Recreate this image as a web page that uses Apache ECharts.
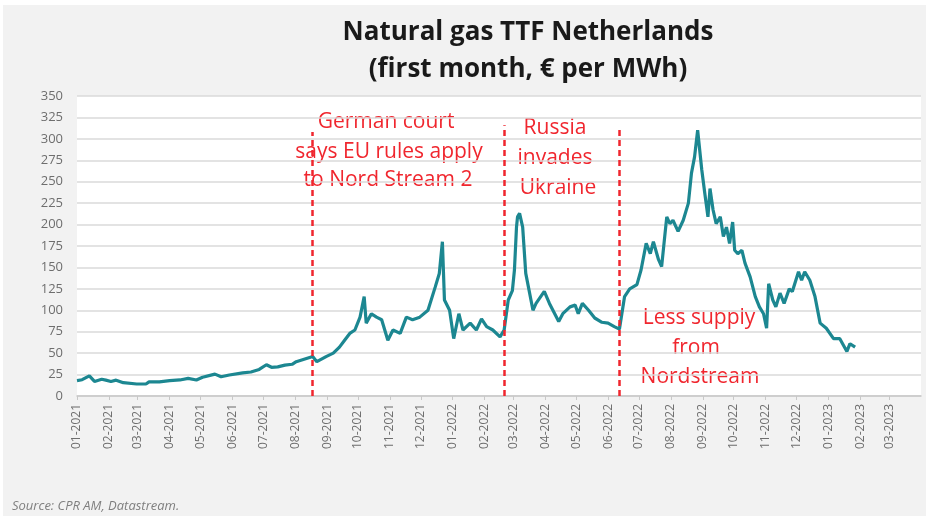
<!DOCTYPE html>
<html>
<head>
<meta charset="utf-8">
<script src="https://cdn.jsdelivr.net/npm/echarts@6/dist/echarts.min.js"></script>
<style>
  html, body { margin: 0; padding: 0; background: #fff; }
  #chart { width: 926px; height: 516px; }
</style>
</head>
<body>
<div id="chart"></div>
<script>
// TTF front-month price, € per MWh
const priceDates = [
  '2021-01-01', '2021-01-06', '2021-01-13', '2021-01-18', '2021-01-25', '2021-01-29',
  '2021-02-03', '2021-02-08', '2021-02-15', '2021-02-28', '2021-03-09', '2021-03-12',
  '2021-03-22', '2021-04-01', '2021-04-11', '2021-04-19', '2021-04-27', '2021-05-03',
  '2021-05-15', '2021-05-21', '2021-05-29', '2021-06-11', '2021-06-19', '2021-06-27',
  '2021-07-04', '2021-07-09', '2021-07-15', '2021-07-22', '2021-07-29', '2021-08-02',
  '2021-08-15', '2021-08-18', '2021-08-22', '2021-08-31', '2021-09-07', '2021-09-13',
  '2021-09-18', '2021-09-23', '2021-09-28', '2021-10-03', '2021-10-07', '2021-10-09',
  '2021-10-14', '2021-10-19', '2021-10-24', '2021-10-30', '2021-11-04', '2021-11-11',
  '2021-11-17', '2021-11-23', '2021-11-30', '2021-12-08', '2021-12-15', '2021-12-19',
  '2021-12-22', '2021-12-24', '2021-12-29', '2022-01-02', '2022-01-07', '2022-01-11',
  '2022-01-18', '2022-01-24', '2022-01-29', '2022-02-03', '2022-02-09', '2022-02-16',
  '2022-02-20', '2022-02-24', '2022-02-28', '2022-03-02', '2022-03-04', '2022-03-05',
  '2022-03-07', '2022-03-08', '2022-03-10', '2022-03-13', '2022-03-20', '2022-03-23',
  '2022-03-31', '2022-04-05', '2022-04-14', '2022-04-18', '2022-04-25', '2022-04-30',
  '2022-05-03', '2022-05-07', '2022-05-13', '2022-05-19', '2022-05-26', '2022-06-01',
  '2022-06-07', '2022-06-12', '2022-06-17', '2022-06-22', '2022-06-29', '2022-07-03',
  '2022-07-08', '2022-07-12', '2022-07-15', '2022-07-20', '2022-07-23', '2022-07-26',
  '2022-07-28', '2022-07-31', '2022-08-03', '2022-08-08', '2022-08-13', '2022-08-18',
  '2022-08-21', '2022-08-24', '2022-08-27', '2022-08-31', '2022-09-03', '2022-09-06',
  '2022-09-08', '2022-09-11', '2022-09-14', '2022-09-18', '2022-09-21', '2022-09-24',
  '2022-09-27', '2022-09-30', '2022-10-02', '2022-10-05', '2022-10-09', '2022-10-12',
  '2022-10-17', '2022-10-22', '2022-10-26', '2022-10-30', '2022-11-02', '2022-11-04',
  '2022-11-08', '2022-11-11', '2022-11-15', '2022-11-19', '2022-11-24', '2022-11-27',
  '2022-12-03', '2022-12-06', '2022-12-09', '2022-12-14', '2022-12-19', '2022-12-24',
  '2022-12-30', '2023-01-06', '2023-01-12', '2023-01-19', '2023-01-22', '2023-01-27'
];
const priceValues = [
  18, 19, 23.5, 17, 19.5, 18.5,
  17, 18.5, 15.5, 14, 14, 16.5,
  16.5, 18, 18.7, 20.5, 18.7, 21.8,
  25.5, 22.5, 24.5, 27, 28, 31,
  36.5, 33.5, 34, 36, 37, 40,
  45, 46, 40, 46, 50, 57,
  65, 73, 77, 92, 116, 85,
  96, 92, 89, 65, 77, 73,
  92, 89, 92, 100, 127, 143,
  180, 112, 100, 67, 96, 77,
  85, 77, 90, 81, 77, 69,
  77, 112, 123, 147, 197, 209,
  213, 215, 197, 143, 100, 108,
  122, 108, 87, 96, 104, 106,
  96, 108, 100, 91, 86, 85,
  81, 78, 116, 125, 130, 147,
  178, 166, 180, 159, 151, 186,
  209, 201, 205, 192, 205, 225,
  260, 279, 310, 264, 236, 209,
  242, 217, 201, 209, 186, 197,
  178, 203, 170, 166, 170, 155,
  139, 116, 104, 96, 79, 131,
  112, 104, 120, 108, 125, 122,
  145, 135, 145, 135, 116, 85,
  79, 67, 67, 52, 61, 57
];

// event markers: date and top of the dashed line
const eventDates = ['2021-08-18', '2022-02-20', '2022-06-12'];
const eventTops = [308, 316, 311];

// x tick labels, one per month
const monthTicks = [
  '2021-01-01', '2021-02-01', '2021-03-01', '2021-04-01', '2021-05-01', '2021-06-01',
  '2021-07-01', '2021-08-01', '2021-09-01', '2021-10-01', '2021-11-01', '2021-12-01',
  '2022-01-01', '2022-02-01', '2022-03-01', '2022-04-01', '2022-05-01', '2022-06-01',
  '2022-07-01', '2022-08-01', '2022-09-01', '2022-10-01', '2022-11-01', '2022-12-01',
  '2023-01-01', '2023-02-01', '2023-03-01'
];

const chart = echarts.init(document.getElementById('chart'));
const toTime = s => echarts.number.parseDate(s).getTime();
const tickValues = monthTicks.map(toTime);
const RED = '#f0262e';
const annoFont = '21px "Open Sans", sans-serif';
const titleFont = 'bold 26px "Open Sans", sans-serif';

const annoText = (text, x, y) => ({
  type: 'text', x, y, silent: true,
  style: { text, fill: RED, font: annoFont, textAlign: 'center', textVerticalAlign: 'middle' }
});

chart.setOption({
  backgroundColor: '#fff',
  animation: false,
  grid: { left: 77, right: 5, top: 96, bottom: 120, show: true, backgroundColor: '#fff', borderWidth: 0, outerBoundsMode: 'none' },
  graphic: [
    { type: 'rect', z: -10, silent: true, shape: { x: 3, y: 5, width: 923, height: 511 }, style: { fill: '#f2f2f2' } },
    { type: 'text', x: 528, y: 33, silent: true,
      style: { text: 'Natural gas TTF Netherlands', fill: '#1a1a1a', font: titleFont, textAlign: 'center', textVerticalAlign: 'middle' } },
    { type: 'text', x: 528, y: 70, silent: true,
      style: { text: '(first month, € per MWh)', fill: '#1a1a1a', font: titleFont, textAlign: 'center', textVerticalAlign: 'middle' } },
    annoText('German court', 386, 122),
    annoText('says EU rules apply', 389, 152),
    annoText('to Nord Stream 2', 388, 180),
    annoText('Russia', 555, 128),
    annoText('invades', 555, 158),
    annoText('Ukraine', 558, 188),
    annoText('Less supply', 699, 318),
    annoText('from', 696, 348),
    annoText('Nordstream', 700, 377),
    { type: 'text', x: 12, y: 506, silent: true,
      style: { text: 'Source: CPR AM, Datastream.', fill: '#7f7f7f', font: 'italic 13px "Open Sans", sans-serif', textVerticalAlign: 'middle' } }
  ],
  xAxis: {
    type: 'value',
    min: toTime('2021-01-01'),
    max: toTime('2023-04-01'),
    axisLine: { lineStyle: { color: '#c8c8c8', width: 1.5 } },
    axisTick: { show: true, customValues: tickValues, length: 4, lineStyle: { color: '#c8c8c8' } },
    splitLine: { show: false },
    axisLabel: {
      customValues: tickValues,
      rotate: 90,
      margin: 8,
      color: '#6e6e6e',
      fontSize: 12,
      fontFamily: '"Open Sans", sans-serif',
      formatter: v => echarts.time.format(v, '{MM}-{yyyy}', false)
    }
  },
  yAxis: {
    type: 'value',
    min: 0,
    max: 350,
    interval: 25,
    axisLine: { show: false },
    axisTick: { show: false },
    axisLabel: { color: '#6e6e6e', fontSize: 13, margin: 14, fontFamily: '"Open Sans", sans-serif' },
    splitLine: { lineStyle: { color: '#dadada', width: 1.5 } }
  },
  series: [
    {
      type: 'line',
      data: priceDates.map((d, i) => [toTime(d), priceValues[i]]),
      showSymbol: false,
      symbol: 'none',
      lineStyle: { color: '#1c8791', width: 3.2 },
      z: 3
    },
    {
      type: 'line',
      data: [],
      markLine: {
        silent: true,
        symbol: ['none', 'none'],
        label: { show: false },
        lineStyle: { color: RED, width: 2.5, type: [6, 4] },
        data: eventDates.map((d, i) => [{ coord: [toTime(d), 0] }, { coord: [toTime(d), eventTops[i]] }])
      },
      z: 4
    }
  ]
});
</script>
</body>
</html>
